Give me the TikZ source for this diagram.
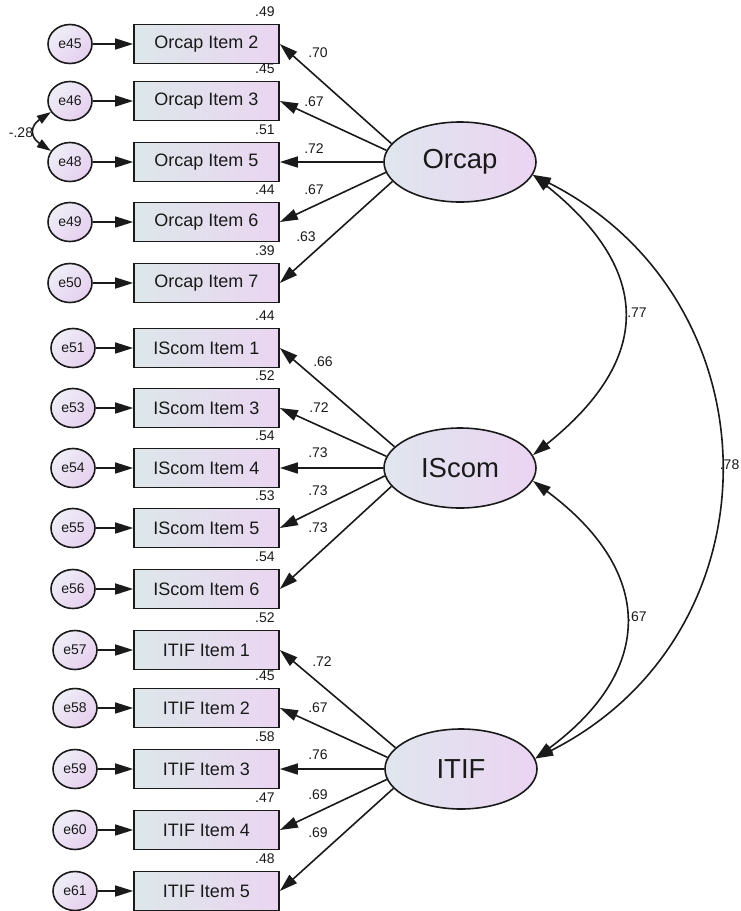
\documentclass[tikz,border=0pt]{standalone}
\usepackage{fontspec}
\setmainfont{Liberation Sans}
\usetikzlibrary{shapes.geometric,arrows.meta}

\definecolor{boxL}{HTML}{DDE7EA}
\definecolor{boxR}{HTML}{EAD5F1}
\definecolor{latL}{HTML}{E0E6EE}
\definecolor{latR}{HTML}{EBD4F2}
\definecolor{errL}{HTML}{EEEEF6}
\definecolor{errR}{HTML}{E6CFEF}
\definecolor{ink}{HTML}{1A1A1A}

\begin{document}
\begin{tikzpicture}[x=1pt,y=-1pt,
  every node/.style={inner sep=0pt,text=ink},
  item/.style={draw=ink,line width=1.7pt,rectangle,minimum width=145pt,minimum height=39pt,
    left color=boxL,right color=boxR,font=\fontsize{18}{18}\selectfont},
  latent/.style={draw=ink,line width=1.6pt,ellipse,minimum width=152pt,minimum height=80pt,
    left color=latL,right color=latR,font=\fontsize{27.5}{28}\selectfont},
  err/.style={draw=ink,line width=1.6pt,ellipse,minimum width=44pt,minimum height=39pt,
    left color=errL,right color=errR,shading angle=45,font=\fontsize{14}{14}\selectfont},
  coef/.style={font=\fontsize{14}{14}\selectfont},
  tip/.tip={Triangle[length=18pt,width=11pt]},
  smalltip/.tip={Triangle[length=14pt,width=9pt]},
  load/.style={draw=ink,line width=1.6pt,-tip},
  cov/.style={draw=ink,line width=1.6pt,tip-tip},
]
\useasboundingbox (0,0) rectangle (740,911);

% latent factors
\node[latent] (Orcap) at (460,162) {Orcap};
\node[latent] (IScom) at (460,468) {IScom};
\node[latent] (ITIF)  at (461,769) {ITIF};

% observed items, their error terms and squared multiple correlations
\foreach \nm/\lab/\y/\en/\ex/\rsq in {
  o2/Orcap Item 2/44/e45/70/.49,
  o3/Orcap Item 3/101/e46/70/.45,
  o5/Orcap Item 5/162/e48/70/.51,
  o6/Orcap Item 6/222/e49/70/.44,
  o7/Orcap Item 7/283/e50/70/.39,
  s1/IScom Item 1/348/e51/73/.44,
  s3/IScom Item 3/408/e53/73/.52,
  s4/IScom Item 4/468/e54/73/.54,
  s5/IScom Item 5/528/e55/73/.53,
  s6/IScom Item 6/589/e56/73/.54,
  t1/ITIF Item 1/650/e57/75/.52,
  t2/ITIF Item 2/708/e58/75/.45,
  t3/ITIF Item 3/769/e59/75/.58,
  t4/ITIF Item 4/830/e60/75/.47,
  t5/ITIF Item 5/891/e61/75/.48}
{
  \node[item] (\nm) at (206.5,\y) {\lab};
  \node[err] (\en) at (\ex,\y) {\en};
  \node[coef] (r\nm) at ([xshift=-15pt,yshift=12pt]\nm.north east) {\rsq};
  \draw[load] (\en) -- (\nm);
}

% factor loadings
\foreach \lat/\nm/\ang/\val/\lx/\ly in {
  Orcap/o2/165/.70/318/53,
  Orcap/o3/171/.67/314/102,
  Orcap/o5/180/.72/314/149,
  Orcap/o6/188/.67/314/190,
  Orcap/o7/196/.63/306/237,
  IScom/s1/162/.66/323/362,
  IScom/s3/171/.72/319/408,
  IScom/s4/180/.73/318/453,
  IScom/s5/186/.73/318/491,
  IScom/s6/195/.73/318/528,
  ITIF/t1/162/.72/322/662,
  ITIF/t2/171/.67/318/708,
  ITIF/t3/180/.76/318/755,
  ITIF/t4/188/.69/318/795,
  ITIF/t5/196/.69/318/833}
{
  \draw[load] (\lat.\ang) -- (\nm.east);
  \node[coef] (l\nm) at (\lx,\ly) {\val};
}

% error covariance
\draw[draw=ink,line width=1.6pt,smalltip-smalltip] (e46.-150) .. controls (30,126) and (30,137) .. (e48.150);
\node[coef] (c2846) at (21,133) {-.28};

% factor covariances
\draw[cov] (Orcap.-10) .. controls +(120,96) and +(120,-96) .. (IScom.10);
\draw[cov] (Orcap.-10) .. controls +(247,125) and +(247,-125) .. (ITIF.8);
\draw[cov] (IScom.-10) .. controls +(121,90) and +(121,-90) .. (ITIF.8);
\node[coef] (cOS) at (637,313) {.77};
\node[coef,anchor=east] (cOT) at (739.5,465) {.78};
\node[coef] (cST) at (637,617) {.67};
\end{tikzpicture}
\end{document}
